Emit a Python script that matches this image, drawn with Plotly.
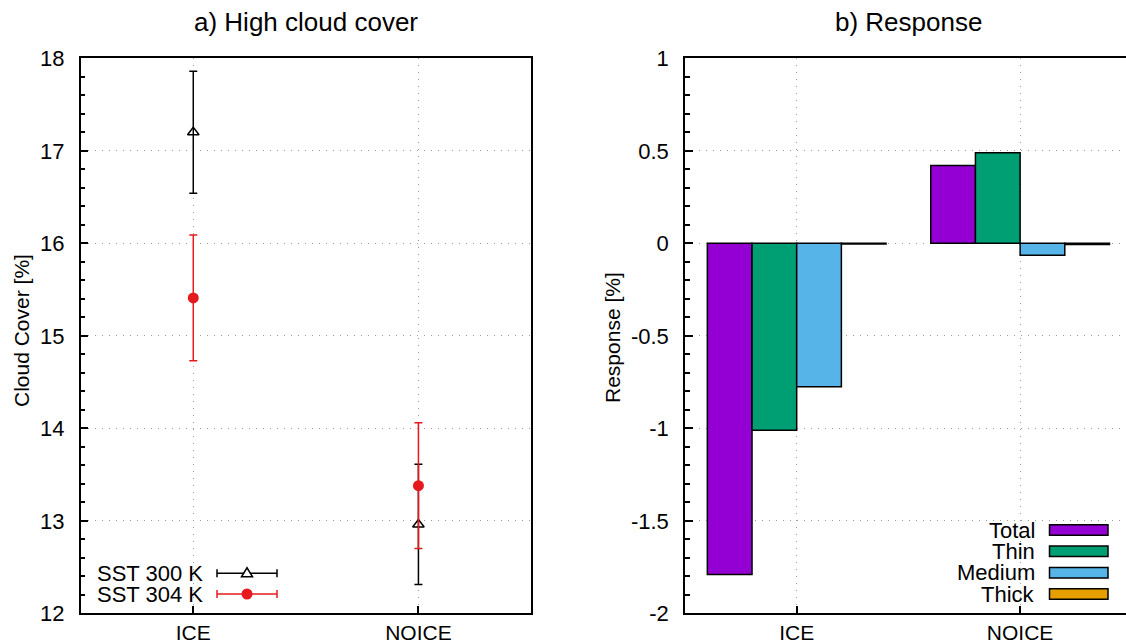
import plotly.graph_objects as go

# ---------------- data ----------------
categories = ["ICE", "NOICE"]
cat_pos = [0, 1]

sst300_mean = [17.20, 12.96]
sst300_err = [0.66, 0.65]
sst304_mean = [15.41, 13.38]
sst304_err = [0.68, 0.68]

resp_total = [-1.79, 0.42]
resp_thin = [-1.01, 0.49]
resp_medium = [-0.775, -0.065]
resp_thick = [-0.004, -0.006]

series_names = ["Total", "Thin", "Medium", "Thick"]
series_colors = ["#9400d3", "#009e73", "#56b4e9", "#e69f00"]

left_ticks = [12, 13, 14, 15, 16, 17, 18]
left_ticktext = ["12", "13", "14", "15", "16", "17", "18"]
right_ticks = [-2, -1.5, -1, -0.5, 0, 0.5, 1]
right_ticktext = ["-2", "-1.5", "-1", "-0.5", "0", "0.5", "1"]

# ---------------- layout helpers ----------------
W, H = 1126, 644
FONT = "Liberation Sans, Arial, Helvetica, sans-serif"
FS = 22
RED = "#e41a1c"


def px(x):
    return x / W


def py(y):
    return 1 - y / H


fig = go.Figure()

# ---- left panel: error bars ----
fig.add_trace(go.Scatter(
    x=cat_pos, y=sst300_mean, mode="markers", name="SST 300 K",
    marker=dict(symbol="triangle-up-open", size=10, color="black", line=dict(width=1.5)),
    error_y=dict(type="data", array=sst300_err, color="black", thickness=1.5, width=4),
    xaxis="x", yaxis="y", showlegend=False))
fig.add_trace(go.Scatter(
    x=cat_pos, y=sst304_mean, mode="markers", name="SST 304 K",
    marker=dict(symbol="circle", size=11, color=RED),
    error_y=dict(type="data", array=sst304_err, color=RED, thickness=1.5, width=4),
    xaxis="x", yaxis="y", showlegend=False))

# ---- right panel: bars ----
for name, vals, col in zip(series_names, [resp_total, resp_thin, resp_medium, resp_thick], series_colors):
    fig.add_trace(go.Bar(
        x=cat_pos, y=vals, name=name, marker=dict(color=col, line=dict(color="black", width=1.5)),
        xaxis="x2", yaxis="y2", showlegend=False))

grid_common = dict(showgrid=True, gridcolor="#9a9a9a", gridwidth=1, griddash="1px,6px",
                   zeroline=False, showline=True, linecolor="black", linewidth=1.5,
                   ticks="inside", ticklen=8, tickwidth=1.5, tickcolor="black",
                   automargin=False)
yfont = dict(family=FONT, size=FS, color="black")
xfont = dict(family=FONT, size=21, color="black")

y_dom = [py(613.3), py(58.3)]

fig.update_layout(
    template="none",
    width=W, height=H,
    margin=dict(l=0, r=0, t=0, b=0, pad=0, autoexpand=False),
    paper_bgcolor="white", plot_bgcolor="white",
    barmode="group", bargap=0.2, bargroupgap=0.0,
    font=dict(family=FONT, size=FS, color="black"),
    xaxis=dict(domain=[px(80.7), px(531)], range=[-0.5, 1.5],
               tickvals=cat_pos, ticktext=categories, mirror=True,
               ticklabelstandoff=0, tickfont=xfont, **grid_common),
    yaxis=dict(domain=y_dom, range=[12, 18], tickvals=left_ticks, ticktext=left_ticktext,
               mirror=True, ticklabelstandoff=10, tickfont=yfont,
               minor=dict(dtick=0.2, ticks="inside", ticklen=5, tickwidth=1.5,
                          tickcolor="black", showgrid=False),
               **grid_common),
    xaxis2=dict(domain=[px(685), 1.0], range=[-0.5, 1.474], anchor="y2",
                tickvals=cat_pos, ticktext=categories, mirror=True,
                ticklabelstandoff=0, tickfont=xfont, **grid_common),
    yaxis2=dict(domain=y_dom, range=[-2, 1], tickvals=right_ticks, ticktext=right_ticktext,
                anchor="x2", mirror=False, ticklabelstandoff=10, tickfont=yfont,
                minor=dict(dtick=0.1, ticks="inside", ticklen=5, tickwidth=1.5,
                           tickcolor="black", showgrid=False),
                **grid_common),
)

ann = []
# panel titles
ann.append(dict(text="a) High cloud cover", x=px(305.8), y=py(22), xref="paper", yref="paper",
                showarrow=False, xanchor="center", yanchor="middle", font=dict(size=26)))
ann.append(dict(text="b) Response", x=px(908), y=py(22), xref="paper", yref="paper",
                showarrow=False, xanchor="center", yanchor="middle", font=dict(size=26)))
# axis titles
ann.append(dict(text="Cloud Cover [%]", x=px(21), y=py(331), xref="paper", yref="paper",
                showarrow=False, textangle=-90, xanchor="center", yanchor="middle",
                font=dict(size=21)))
ann.append(dict(text="Response [%]", x=px(612), y=py(338), xref="paper", yref="paper",
                showarrow=False, textangle=-90, xanchor="center", yanchor="middle",
                font=dict(size=21)))

shapes = []
# left key (gnuplot style: text then sample)
left_key = [("SST 300 K", "black", "tri", 573.3), ("SST 304 K", RED, "dot", 594.0)]
for label, col, sym, yy in left_key:
    ann.append(dict(text=label, x=px(205), y=py(yy), xref="paper", yref="paper",
                    showarrow=False, xanchor="right", yanchor="middle", height=19,
                    valign="middle", font=dict(size=FS)))
    x0, x1, xm = 217, 277, 247
    shapes.append(dict(type="line", xref="paper", yref="paper", x0=px(x0), x1=px(x1),
                       y0=py(yy), y1=py(yy), line=dict(color=col, width=1.5)))
    for xc in (x0, x1):
        shapes.append(dict(type="line", xref="paper", yref="paper", x0=px(xc), x1=px(xc),
                           y0=py(yy - 4), y1=py(yy + 4), line=dict(color=col, width=1.5)))
    if sym == "tri":
        path = (f"M {px(xm - 5.5)} {py(yy + 3.5)} L {px(xm + 5.5)} {py(yy + 3.5)} "
                f"L {px(xm)} {py(yy - 5.5)} Z")
        shapes.append(dict(type="path", xref="paper", yref="paper", path=path,
                           fillcolor="white", line=dict(color=col, width=1.5)))
    else:
        shapes.append(dict(type="circle", xref="paper", yref="paper",
                           x0=px(xm - 5.5), x1=px(xm + 5.5), y0=py(yy + 5.5), y1=py(yy - 5.5),
                           fillcolor=col, line=dict(color=col, width=0)))

# right key
key_rows = [530.0, 551.3, 572.7, 594.0]
for name, col, yy in zip(series_names, series_colors, key_rows):
    ann.append(dict(text=name, x=px(1037), y=py(yy), xref="paper", yref="paper",
                    showarrow=False, xanchor="right", yanchor="middle", height=19,
                    valign="middle", font=dict(size=FS)))
    shapes.append(dict(type="rect", xref="paper", yref="paper",
                       x0=px(1049.5), x1=px(1108), y0=py(yy + 5.3), y1=py(yy - 5.3),
                       fillcolor=col, line=dict(color="black", width=1.5)))

fig.update_layout(annotations=ann, shapes=shapes)

fig.write_html(
    "out.html",
    config={"displayModeBar": False},
    post_script="document.body.style.margin='0px';document.body.style.overflow='hidden';",
)
